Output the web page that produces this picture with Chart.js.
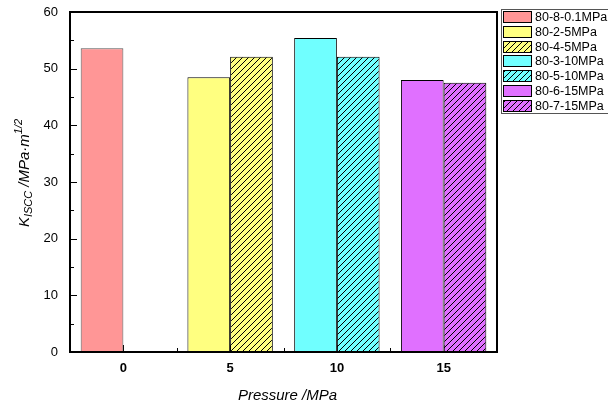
<!DOCTYPE html>
<html>
<head>
<meta charset="utf-8">
<script src="https://cdn.jsdelivr.net/npm/chart.js@4"></script>
<style>
  html, body { margin: 0; padding: 0; background: #fff; }
  #wrap { width: 608px; height: 408px; }
</style>
</head>
<body>
<div id="wrap"><canvas id="chart" width="608" height="408"></canvas></div>
<script>
const pressures = ['0', '5', '10', '15'];
const seriesNames = ['80-8-0.1MPa', '80-2-5MPa', '80-4-5MPa', '80-3-10MPa', '80-5-10MPa', '80-6-15MPa', '80-7-15MPa'];
const seriesValues = [
  [53.6, null, null, null],
  [null, 48.5, null, null],
  [null, 52.1, null, null],
  [null, null, 55.4, null],
  [null, null, 52.1, null],
  [null, null, null, 48.0],
  [null, null, null, 47.5]
];
const seriesColors = ['#ff9696', '#ffff80', '#ffff80', '#70ffff', '#70ffff', '#e070ff', '#e070ff'];
const seriesHatched = [false, false, true, false, true, false, true];
const seriesSlot = ['a', 'a', 'b', 'a', 'b', 'a', 'b'];
const yTicks = [0, 10, 20, 30, 40, 50, 60];

function hatch(color) {
  const c = document.createElement('canvas');
  c.width = 6; c.height = 6;
  const g = c.getContext('2d');
  g.fillStyle = color;
  g.fillRect(0, 0, 6, 6);
  g.strokeStyle = '#000';
  g.lineWidth = 1;
  g.beginPath();
  g.moveTo(-1, 7); g.lineTo(7, -1);
  g.moveTo(-4, 4); g.lineTo(4, -4);
  g.moveTo(2, 10); g.lineTo(10, 2);
  g.stroke();
  return g.createPattern(c, 'repeat');
}

const fills = seriesColors.map((c, i) => seriesHatched[i] ? hatch(c) : c);

const datasets = seriesNames.map((name, i) => ({
  label: name,
  data: seriesValues[i],
  stack: seriesSlot[i],
  backgroundColor: fills[i],
  borderColor: i === 0 ? '#555' : '#000',
  borderWidth: 1,
  barPercentage: 1,
  categoryPercentage: 0.8
}));

const framePlugin = {
  id: 'frame',
  beforeDatasetsDraw(chart) {
    const { ctx, chartArea: a, scales: { x, y } } = chart;
    ctx.save();
    ctx.strokeStyle = '#000';
    ctx.lineWidth = 1;
    ctx.beginPath();
    for (let v = 0; v <= 60; v += 5) {
      const py = Math.round(y.getPixelForValue(v)) + 0.5;
      const len = v % 10 === 0 ? 7 : 4;
      ctx.moveTo(a.left, py); ctx.lineTo(a.left + len, py);
    }
    for (let i = 0; i < pressures.length; i++) {
      const px = Math.round(x.getPixelForValue(i)) + 0.5;
      ctx.moveTo(px, a.bottom); ctx.lineTo(px, a.bottom - 7);
      if (i < pressures.length - 1) {
        const mx = Math.round(x.getPixelForValue(i + 0.5)) + 0.5;
        ctx.moveTo(mx, a.bottom); ctx.lineTo(mx, a.bottom - 4);
      }
    }
    ctx.stroke();
    ctx.restore();
  },
  afterDraw(chart) {
    const { ctx, chartArea: a } = chart;
    ctx.save();
    ctx.strokeStyle = '#000';
    ctx.lineWidth = 2;
    ctx.strokeRect(a.left, a.top, a.right - a.left, a.bottom - a.top);

    // x title
    ctx.fillStyle = '#000';
    ctx.font = 'italic 15px Arial';
    ctx.textAlign = 'center';
    ctx.textBaseline = 'middle';
    ctx.fillText('Pressure /MPa', (a.left + a.right) / 2 + 4, 396);

    // y title with sub/superscript
    ctx.translate(25, 173);
    ctx.rotate(-Math.PI / 2);
    const parts = [
      { t: 'K', f: 'italic 15px Arial', dy: 0 },
      { t: 'ISCC', f: 'italic 11px Arial', dy: 4 },
      { t: ' /MPa\u00b7m', f: 'italic 15px Arial', dy: 0 },
      { t: '1/2', f: 'italic 11px Arial', dy: -6 }
    ];
    let total = 0;
    parts.forEach(p => { ctx.font = p.f; p.w = ctx.measureText(p.t).width; total += p.w; });
    let cx = -total / 2;
    ctx.textAlign = 'left';
    parts.forEach(p => { ctx.font = p.f; ctx.fillText(p.t, cx, p.dy); cx += p.w; });
    ctx.restore();

    // legend
    ctx.save();
    ctx.strokeStyle = '#555';
    ctx.lineWidth = 1;
    ctx.strokeRect(501.5, 9.5, 120, 104);
    ctx.font = '12.5px Arial';
    ctx.textAlign = 'left';
    ctx.textBaseline = 'middle';
    chart.data.datasets.forEach((ds, i) => {
      const top = Math.round(11 + i * 14.8);
      ctx.fillStyle = ds.backgroundColor;
      ctx.fillRect(503, top, 29, 12);
      ctx.strokeStyle = '#000';
      ctx.strokeRect(503.5, top + 0.5, 28, 11);
      ctx.fillStyle = '#000';
      ctx.fillText(ds.label, 535, top + 6.5);
    });
    ctx.restore();
  }
};

new Chart(document.getElementById('chart'), {
  type: 'bar',
  data: { labels: pressures, datasets },
  options: {
    responsive: false,
    animation: false,
    layout: { padding: { left: 0, right: 111, top: 12, bottom: 0 } },
    plugins: { legend: { display: false }, tooltip: { enabled: false } },
    scales: {
      x: {
        stacked: true,
        grid: { display: false, drawTicks: false },
        border: { display: false },
        ticks: { color: '#000', font: { family: 'Arial', size: 13, weight: 'bold' }, padding: 9 },
        afterFit: s => { s.height = 56; s.paddingLeft = 0; s.paddingRight = 0; }
      },
      y: {
        stacked: true,
        min: 0, max: 60,
        afterBuildTicks: s => { s.ticks = yTicks.map(v => ({ value: v })); },
        grid: { display: false, drawTicks: false },
        border: { display: false },
        ticks: { color: '#000', font: { family: 'Arial', size: 13 }, padding: 12 },
        afterFit: s => { s.width = 70; s.paddingTop = 0; s.paddingBottom = 0; }
      }
    }
  },
  plugins: [framePlugin]
});
</script>
</body>
</html>
